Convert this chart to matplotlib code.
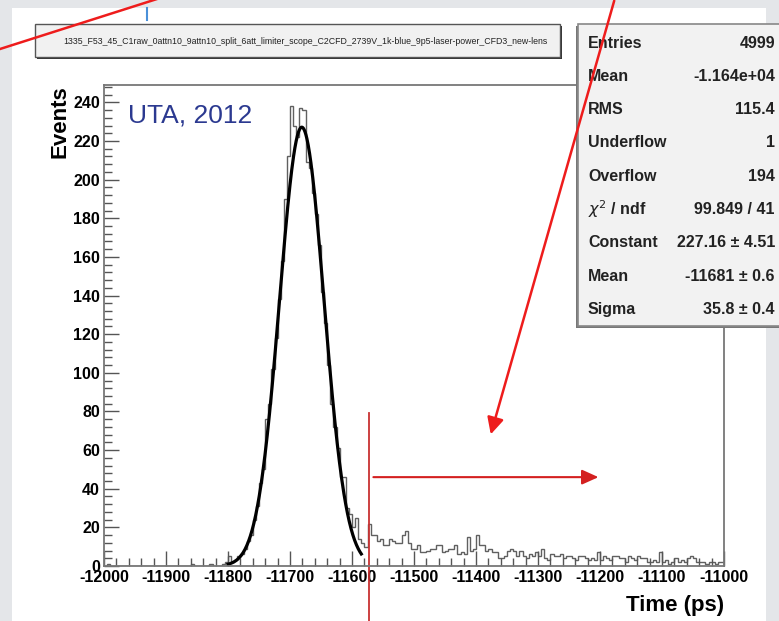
import numpy as np
import matplotlib
matplotlib.use("Agg")
from matplotlib import pyplot as plt
from matplotlib.patches import Rectangle
from matplotlib.ticker import MultipleLocator

plt.rcParams['font.family'] = ['Liberation Sans', 'DejaVu Sans']
plt.rcParams['axes.unicode_minus'] = False

# histogram: 200 bins of 5 ps between -12000 and -11000
t_lo, t_hi, n_bins = -12000, -11000, 200
counts = [
    0, 1, 0, 0, 0, 0, 0, 0, 0, 0,
    0, 0, 0, 0, 0, 0, 0, 0, 0, 0,
    0, 0, 0, 0, 0, 0, 0, 0, 1, 0,
    0, 0, 0, 0, 1, 0, 0, 0, 1, 2,
    5, 2, 3, 5, 6, 9, 13, 16, 24, 31,
    43, 50, 76, 84, 102, 118, 138, 158, 190, 212,
    238, 228, 222, 237, 236, 209, 206, 193, 182, 166,
    142, 126, 104, 84, 72, 61, 46, 46, 30, 27,
    20, 25, 14, 12, 10, 22, 16, 16, 13, 14,
    11, 11, 14, 13, 12, 12, 16, 18, 12, 9,
    9, 11, 7, 7, 8, 9, 9, 11, 11, 7,
    8, 9, 9, 11, 6, 7, 6, 15, 8, 9,
    16, 11, 11, 8, 9, 7, 7, 4, 4, 5,
    8, 9, 8, 5, 8, 5, 4, 6, 5, 7,
    5, 9, 4, 3, 6, 5, 5, 6, 4, 5,
    5, 4, 3, 5, 5, 4, 3, 4, 3, 7,
    3, 5, 4, 3, 5, 5, 4, 4, 2, 5,
    4, 3, 5, 4, 4, 2, 2, 3, 2, 7,
    2, 3, 1, 2, 4, 2, 3, 2, 4, 5,
    4, 2, 2, 2, 1, 2, 2, 1, 2, 2,
]

# gaussian fit parameters
fit_const, fit_mean, fit_sigma = 227.16, -11681, 35.8
fit_range = (-11800, -11585)

cut_time = -11572
title_text = ("1335_F53_45_C1raw_0attn10_9attn10_split_6att_limiter_scope_"
              "C2CFD_2739V_1k-blue_9p5-laser-power_CFD3_new-lens")
stat_names = ["Entries", "Mean", "RMS", "Underflow", "Overflow",
              r"$\chi^2$ / ndf", "Constant", "Mean", "Sigma"]
stat_values = ["4999", "-1.164e+04", "115.4", "1", "194", "99.849 / 41",
               "227.16 \u00b1 4.51", "-11681 \u00b1 0.6", "35.8 \u00b1 0.4"]

W, H = 779, 621
fig = plt.figure(figsize=(W / 100, H / 100), dpi=100, facecolor="#e4e6e9")

# white canvas
bg = fig.add_axes([0, 0, 1, 1], zorder=0)
bg.set_xlim(0, W)
bg.set_ylim(H, 0)
bg.axis("off")
bg.add_patch(Rectangle((12, 8), 754, 620, facecolor="white", edgecolor="none"))

ax = fig.add_axes([104 / W, (H - 566) / H, 620 / W, 481 / H], zorder=1)
edges = np.linspace(t_lo, t_hi, n_bins + 1)
ax.stairs(counts, edges, color="#606060", lw=1.0)

xf = np.linspace(fit_range[0], fit_range[1], 300)
yf = fit_const * np.exp(-0.5 * ((xf - fit_mean) / fit_sigma) ** 2)
ax.plot(xf, yf, color="black", lw=2.3)

ax.set_xlim(t_lo, t_hi)
ax.set_ylim(0, 249)
ax.xaxis.set_major_locator(MultipleLocator(100))
ax.xaxis.set_minor_locator(MultipleLocator(20))
ax.yaxis.set_major_locator(MultipleLocator(20))
ax.yaxis.set_minor_locator(MultipleLocator(4))
ax.tick_params(which="both", direction="in", color="#555555", width=1.0,
               labelsize=11.5, pad=3)
ax.tick_params(which="major", length=11)
ax.tick_params(which="minor", length=6)
for lab in ax.get_xticklabels() + ax.get_yticklabels():
    lab.set_fontweight("bold")
for s in ax.spines.values():
    s.set_color("#777777")
    s.set_linewidth(1.3)
ax.set_xlabel("Time (ps)", loc="right", fontsize=16, fontweight="bold", labelpad=7)
ax.set_ylabel("Events", loc="top", fontsize=16, fontweight="bold", labelpad=2)
ax.text(0.038, 0.962, "UTA, 2012", transform=ax.transAxes, fontsize=19,
        color="#2b3990", ha="left", va="top")

# selection cut and arrow to the tail
ax.plot([cut_time, cut_time], [79, -35], color="#c83232", lw=1.3, clip_on=False)
ax.annotate("", xy=(-11198, 46), xytext=(cut_time + 2, 46),
            arrowprops=dict(arrowstyle="-|>,head_length=1.0,head_width=0.45",
                            color="#d42020", lw=1.5))

# overlay: title pave, stats box, annotations
fg = fig.add_axes([0, 0, 1, 1], zorder=2)
fg.set_xlim(0, W)
fg.set_ylim(H, 0)
fg.axis("off")
fg.patch.set_alpha(0)

fg.add_patch(Rectangle((37, 26), 525, 33, facecolor="#333333", edgecolor="none"))
fg.add_patch(Rectangle((35, 24), 525, 33, facecolor="#f1f1f1",
                       edgecolor="#555555", lw=1.0))
fg.text(305, 41, title_text, fontsize=6.3, ha="center", va="center", color="#222222")

fg.add_patch(Rectangle((576, 26), 210, 302, facecolor="#777777", edgecolor="none"))
fg.add_patch(Rectangle((578, 24), 210, 302, facecolor="#f2f2f2",
                       edgecolor="#888888", lw=1.2))
for i, (name, val) in enumerate(zip(stat_names, stat_values)):
    y = 43 + 33.3 * i
    fg.text(588, y, name, fontsize=11.5, fontweight="bold", ha="left",
            va="center", color="#222222")
    fg.text(775, y, val, fontsize=11.5, fontweight="bold", ha="right",
            va="center", color="#222222")

fg.plot([0, 157], [49, -1], color="#ee1c1c", lw=1.8)
fg.plot([147, 147], [8, 20], color="#4a90d9", lw=1.5)
fg.annotate("", xy=(490, 437), xytext=(615, -2),
            arrowprops=dict(arrowstyle="-|>,head_length=1.0,head_width=0.5",
                            color="#ee1c1c", lw=1.8))

fig.savefig("out.png", dpi=100, facecolor=fig.get_facecolor())
